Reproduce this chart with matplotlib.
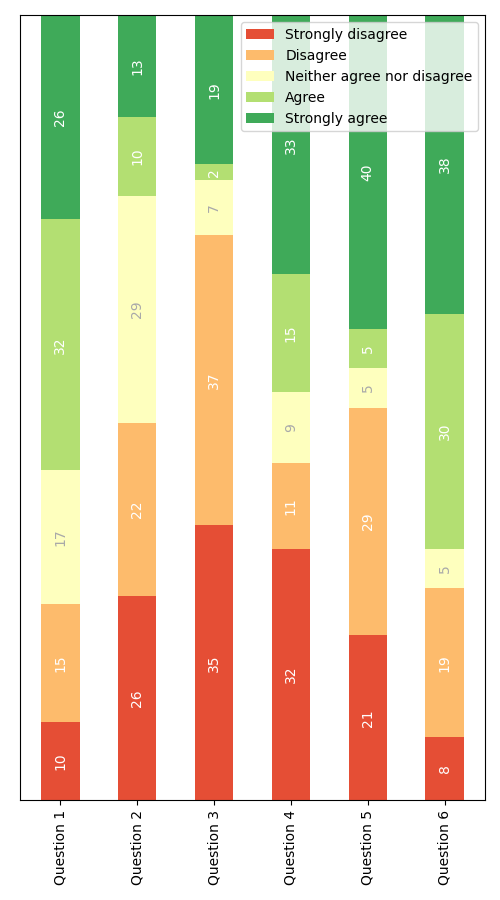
import matplotlib
matplotlib.use("Agg")
import matplotlib.pyplot as plt
import numpy as np

category_names = ['Strongly disagree', 'Disagree', 'Neither agree nor disagree',
                  'Agree', 'Strongly agree']
questions = ['Question 1', 'Question 2', 'Question 3',
             'Question 4', 'Question 5', 'Question 6']
strongly_disagree = [10, 26, 35, 32, 21, 8]
disagree = [15, 22, 37, 11, 29, 19]
neither = [17, 29, 7, 9, 5, 5]
agree = [32, 10, 2, 15, 5, 30]
strongly_agree = [26, 13, 19, 33, 40, 38]

data = np.array([strongly_disagree, disagree, neither, agree, strongly_agree]).T
data_cum = data.cumsum(axis=1)
colors = plt.colormaps['RdYlGn'](np.linspace(0.15, 0.85, data.shape[1]))

fig, ax = plt.subplots(figsize=(5, 9), dpi=100)
fig.subplots_adjust(left=0.04, right=0.97, top=0.983, bottom=0.111)
ax.yaxis.set_visible(False)
ax.set_ylim(0, np.sum(data, axis=1).max())

for i, (name, color) in enumerate(zip(category_names, colors)):
    heights = data[:, i]
    starts = data_cum[:, i] - heights
    rects = ax.bar(questions, heights, bottom=starts, width=0.5, label=name, color=color)
    r, g, b, _ = color
    text_color = 'white' if r * g * b < 0.5 else 'darkgrey'
    ax.bar_label(rects, label_type='center', color=text_color, rotation=90)

ax.tick_params(axis='x', labelrotation=90)
ax.legend(loc='upper right')

fig.savefig('out.png')
